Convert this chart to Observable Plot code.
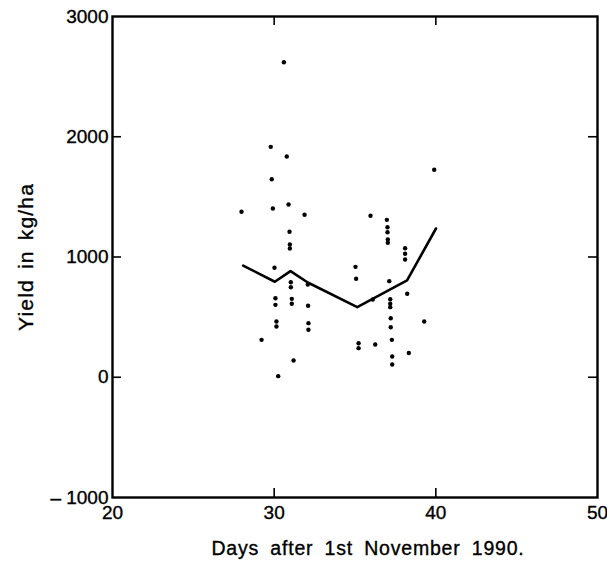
<!DOCTYPE html>
<html>
<head>
<meta charset="utf-8">
<script src="https://cdn.jsdelivr.net/npm/d3@7"></script>
<script src="https://cdn.jsdelivr.net/npm/@observablehq/plot@0.6"></script>
<style>
  html, body { margin: 0; padding: 0; background: #fff; }
  svg text { font-family: "Liberation Sans", Arial, sans-serif; stroke: #000; stroke-width: 0.35px; }
  .xlab { letter-spacing: 0.8px; word-spacing: 5px; }
  .ylab { letter-spacing: 1.2px; word-spacing: 3px; }
</style>
</head>
<body>
<div id="chart"></div>
<script>
// Observations: day after 1 Nov 1990, yield (kg/ha)
const obsDay = [
  29.79, 30.78, 29.85, 27.98, 29.92, 30.89, 31.88, 30.95, 30.97, 30.97,
  30.60, 30.02, 31.03, 31.03, 32.08, 30.08, 30.08, 31.09, 31.09, 32.10,
  30.14, 30.14, 32.12, 32.12, 29.22, 31.20, 30.25,
  35.96, 36.97, 37.01, 37.01, 37.03, 37.03, 38.10, 38.10, 38.10, 35.03,
  35.07, 37.12, 38.23, 36.10, 37.18, 37.18, 37.18, 37.21, 37.21, 37.28,
  35.22, 35.22, 36.25, 37.30, 38.33, 37.30, 39.90, 39.28
];
const obsYield = [
  1916, 1836, 1647, 1376, 1403, 1437, 1351, 1210, 1104, 1071,
  2620, 910, 790, 749, 771, 657, 602, 652, 611, 594,
  464, 422, 450, 395, 311, 139, 9,
  1343, 1309, 1248, 1206, 1145, 1118, 1073, 1027, 979, 918,
  819, 799, 694, 647, 649, 611, 583, 491, 416, 311,
  283, 242, 272, 173, 202, 106, 1725, 464
];
// Fitted curve
const fitDay = [28.08, 30.04, 31.01, 32.08, 35.14, 38.22, 40.01];
const fitYield = [929, 794, 882, 788, 583, 805, 1237];

const xTicks = [20, 30, 40, 50];
const xInnerTicks = [30, 40];
const yTicks = [-1000, 0, 1000, 2000, 3000];
const yInnerTicks = [0, 1000, 2000];
const xLabel = "Days after 1st November 1990.";
const yLabel = "Yield in kg/ha";

const points = obsDay.map((d, i) => ({day: d, yield: obsYield[i]}));
const fit = fitDay.map((d, i) => ({day: d, yield: fitYield[i]}));

const W = 607, H = 564;
const mL = 112, mR = 10, mT = 16, mB = 67;
const pw = W - mL - mR, ph = H - mT - mB;
const tickLen = 9;

const chart = Plot.plot({
  width: W,
  height: H,
  marginLeft: mL,
  marginRight: mR,
  marginTop: mT,
  marginBottom: mB,
  style: {fontSize: "19px", fontFamily: "Liberation Sans, Arial, sans-serif", color: "#000", background: "#fff"},
  x: {domain: [20, 50]},
  y: {domain: [-1000, 3000]},
  marks: [
    Plot.axisX({ticks: xTicks, tickSize: 0, tickPadding: 8, label: null, fontSize: 19, tickFormat: d => String(d)}),
    Plot.axisY({ticks: yTicks, tickSize: 0, tickPadding: 4, label: null, fontSize: 19,
      tickFormat: d => d < 0 ? "\u2013 " + Math.abs(d) : String(d)}),
    Plot.tickX(xInnerTicks, {x: d => d, insetTop: ph - tickLen, stroke: "#000", strokeWidth: 1.6}),
    Plot.tickX(xInnerTicks, {x: d => d, insetBottom: ph - tickLen, stroke: "#000", strokeWidth: 1.6}),
    Plot.tickY(yInnerTicks, {y: d => d, insetRight: pw - tickLen, stroke: "#000", strokeWidth: 1.6}),
    Plot.tickY(yInnerTicks, {y: d => d, insetLeft: pw - tickLen, stroke: "#000", strokeWidth: 1.6}),
    Plot.frame({stroke: "#000", strokeWidth: 2.4}),
    Plot.line(fit, {x: "day", y: "yield", stroke: "#000", strokeWidth: 2.6}),
    Plot.dot(points, {x: "day", y: "yield", r: 2.2, fill: "#000", stroke: "none"}),
    Plot.text([xLabel], {text: d => d, frameAnchor: "bottom", dx: 13, dy: 57, fontSize: 19.5, fill: "#000", className: "xlab"}),
    Plot.text([yLabel], {text: d => d, frameAnchor: "left", textAnchor: "middle", lineAnchor: "middle", dx: -86, rotate: -90, fontSize: 21, fill: "#000", className: "ylab"})
  ]
});
document.getElementById("chart").appendChild(chart);
</script>
</body>
</html>
